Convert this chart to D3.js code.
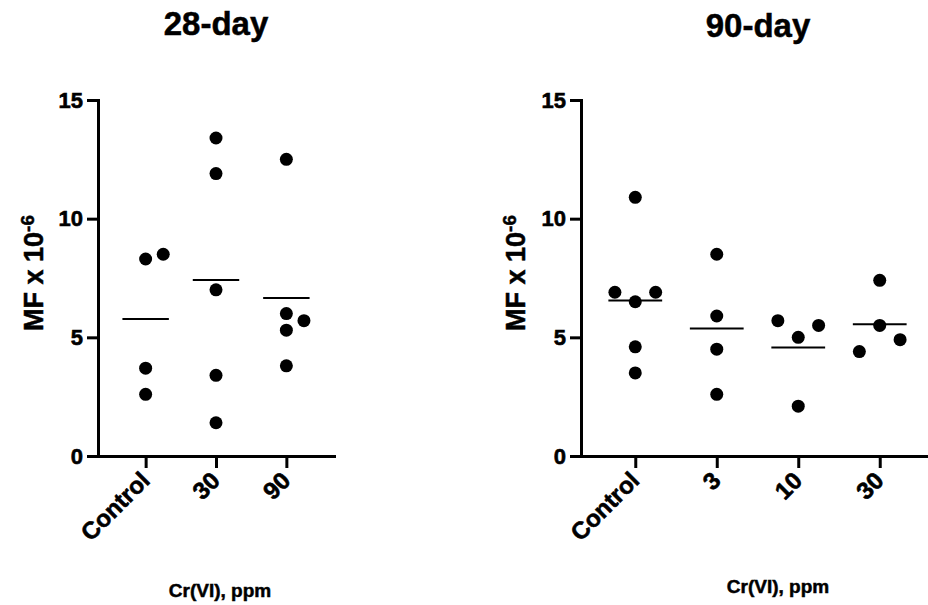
<!DOCTYPE html>
<meta charset="utf-8">
<style>

body {
	margin: 0;
	background-color: #fff;
}

text {
	font-family: 'Liberation Sans', Arial, sans-serif;
	font-weight: bold;
	fill: #000;
	stroke: #000;
	stroke-width: 0.5px;
}

.axis path,
.axis line {
	stroke: #000;
	stroke-width: 3px;
}

.axis path {
	stroke-linecap: square;
}

.axis text {
	font-size: 22px;
	stroke-width: 0.6px;
}

.xaxis text {
	font-size: 24px;
}

.mean {
	stroke: #000;
	stroke-width: 2px;
}

</style>
<body>

<svg width="928" height="605"></svg>

<script src="https://d3js.org/d3.v7.min.js"></script>

<script>

// 28-day study
var groups28 = ["Control", "30", "90"];
var mf28 = [
	[8.3, 8.5, 3.7, 2.6],
	[13.4, 11.9, 7.0, 3.4, 1.4],
	[12.5, 6.0, 5.7, 5.3, 3.8]
];
// which column of the scatter each point sits in (-1 left, 0 centre, 1 right)
var spread28 = [
	[0, 1, 0, 0],
	[0, 0, 0, 0, 0],
	[0, 0, 1, 0, 0]
];

// 90-day study
var groups90 = ["Control", "3", "10", "30"];
var mf90 = [
	[10.9, 6.9, 6.5, 6.9, 4.6, 3.5],
	[8.5, 5.9, 4.5, 2.6],
	[5.7, 5.5, 5.0, 2.1],
	[7.4, 5.5, 4.4, 4.9]
];
var spread90 = [
	[0, -1, 0, 1, 0, 0],
	[0, 0, 0, 0],
	[-1, 1, 0, 0],
	[0, 0, -1, 1]
];

var yTicks = [0, 5, 10, 15];

var svg = d3.select("svg");

var y = d3.scaleLinear()
	.domain([0, 15])
	.range([456, 100]);

function panel(p) {
	var x = d3.scalePoint()
		.domain(p.groups)
		.range(p.range)
		.padding(p.padding);

	var step = x.step();

	var g = svg.append("g");

	// y axis
	g.append("g")
		.attr("class", "axis")
		.attr("transform", "translate(" + p.range[0] + ",0)")
		.call(d3.axisLeft(y).tickValues(yTicks).tickSize(11).tickSizeOuter(0).tickPadding(4));

	// x axis
	var xa = g.append("g")
		.attr("class", "axis xaxis")
		.attr("transform", "translate(0," + y(0) + ")")
		.call(d3.axisBottom(x).tickSize(12).tickSizeOuter(0));

	xa.selectAll(".tick text")
		.attr("y", 0)
		.attr("dy", 0)
		.attr("text-anchor", "end")
		.attr("transform", "translate(5,26) rotate(-45)");

	// points + mean lines
	var pts = [];
	p.values.forEach(function(vals, i) {
		vals.forEach(function(v, j) {
			pts.push({ group: p.groups[i], value: v, slot: p.spread[i][j] });
		});
	});

	g.selectAll(".dot")
		.data(pts)
		.enter().append("circle")
			.attr("class", "dot")
			.attr("cx", function(d) { return x(d.group) + d.slot * step * 0.25; })
			.attr("cy", function(d) { return y(d.value); })
			.attr("r", 6.5)
			.style("fill", "#000");

	g.selectAll(".mean")
		.data(p.values)
		.enter().append("line")
			.attr("class", "mean")
			.attr("x1", function(d, i) { return x(p.groups[i]) - step * 0.33; })
			.attr("x2", function(d, i) { return x(p.groups[i]) + step * 0.33; })
			.attr("y1", function(d) { return y(d3.mean(d)); })
			.attr("y2", function(d) { return y(d3.mean(d)); });

	// titles
	g.append("text")
		.attr("x", p.titleX)
		.attr("y", p.titleY)
		.attr("text-anchor", "middle")
		.style("font-size", "33px")
		.text(p.title);

	var yl = g.append("text")
		.attr("transform", "translate(" + p.yLabelX + ",273) rotate(-90)")
		.attr("text-anchor", "middle")
		.style("font-size", "27px");
	yl.append("tspan").text("MF x 10");
	yl.append("tspan")
		.attr("dy", "-0.45em")
		.style("font-size", "19px")
		.text("-6");

	g.append("text")
		.attr("x", p.xLabelX)
		.attr("y", p.xLabelY)
		.attr("text-anchor", "middle")
		.style("font-size", "19px")
		.text("Cr(VI), ppm");
}

panel({
	groups: groups28, values: mf28, spread: spread28,
	range: [98, 334], padding: 0.677,
	title: "28-day", titleX: 216, titleY: 35,
	yLabelX: 43, xLabelX: 220, xLabelY: 597
});

panel({
	groups: groups90, values: mf90, spread: spread90,
	range: [581, 934], padding: 0.666,
	title: "90-day", titleX: 758, titleY: 37,
	yLabelX: 525, xLabelX: 778, xLabelY: 593
});

</script>
